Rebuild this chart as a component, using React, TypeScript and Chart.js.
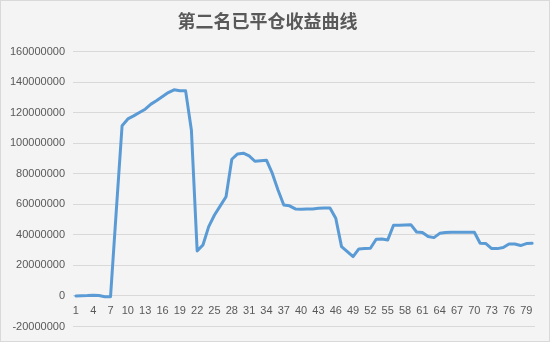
import React, { useEffect, useRef } from "react";
import { Chart, registerables } from "chart.js";

Chart.register(...registerables);

const TITLE = "第二名已平仓收益曲线";

const CATEGORIES: string[] = [
  "1", "2", "3", "4", "5", "6", "7", "8", "9", "10",
  "11", "12", "13", "14", "15", "16", "17", "18", "19", "20",
  "21", "22", "23", "24", "25", "26", "27", "28", "29", "30",
  "31", "32", "33", "34", "35", "36", "37", "38", "39", "40",
  "41", "42", "43", "44", "45", "46", "47", "48", "49", "50",
  "51", "52", "53", "54", "55", "56", "57", "58", "59", "60",
  "61", "62", "63", "64", "65", "66", "67", "68", "69", "70",
  "71", "72", "73", "74", "75", "76", "77", "78", "79", "80",
];

const PROFIT: number[] = [
  0, 200000, 300000, 500000, 300000, -500000, -500000, 56000000, 111500000, 115900000,
  117900000, 120100000, 122300000, 125600000, 128000000, 130600000, 133200000, 135000000, 134300000, 134300000,
  108700000, 29500000, 33400000, 45400000, 53000000, 59000000, 65000000, 89500000, 93000000, 93500000,
  91700000, 88200000, 88600000, 88900000, 80400000, 69400000, 59600000, 59000000, 57000000, 56800000,
  57000000, 57000000, 57400000, 57600000, 57600000, 50900000, 32300000, 29000000, 25800000, 30800000,
  31000000, 31200000, 37100000, 37300000, 36700000, 46300000, 46300000, 46500000, 46700000, 41900000,
  41500000, 38900000, 38200000, 41000000, 41500000, 41700000, 41700000, 41700000, 41700000, 41700000,
  34500000, 34300000, 31000000, 31000000, 31700000, 34000000, 34000000, 33000000, 34300000, 34500000,
];

const Y_MIN = -20000000;
const Y_MAX = 160000000;
const Y_STEP = 20000000;
const X_LABEL_EVERY = 3;

const TEXT_COLOR = "#595959";
const GRID_COLOR = "#d9d9d9";
const LINE_COLOR = "#5b9bd5";
const BG_COLOR = "#f4f4f4";

const frame = {
  id: "frame",
  beforeDraw(chart: any) {
    const { ctx, width, height } = chart;
    ctx.save();
    ctx.fillStyle = BG_COLOR;
    ctx.fillRect(0, 0, width, height);
    ctx.strokeStyle = GRID_COLOR;
    ctx.lineWidth = 1;
    ctx.strokeRect(0.5, 0.5, width - 1, height - 1);
    ctx.restore();
  },
};

export default function App() {
  const ref = useRef<HTMLCanvasElement | null>(null);

  useEffect(() => {
    if (!ref.current) return;
    const chart = new Chart(ref.current, {
      type: "line",
      data: {
        labels: CATEGORIES,
        datasets: [
          {
            data: PROFIT,
            borderColor: LINE_COLOR,
            backgroundColor: LINE_COLOR,
            borderWidth: 3,
            pointRadius: 0,
            tension: 0,
            borderJoinStyle: "round",
            borderCapStyle: "round",
            fill: false,
          },
        ],
      },
      options: {
        animation: false,
        responsive: true,
        maintainAspectRatio: false,
        layout: { padding: { left: 0, right: 15, top: 0, bottom: 15.5 } },
        plugins: {
          legend: { display: false },
          tooltip: { enabled: false },
          title: {
            display: true,
            text: TITLE,
            color: TEXT_COLOR,
            font: { family: "'Noto Sans CJK SC', sans-serif", size: 18, weight: "bold" },
            padding: { top: 10, bottom: 20 },
          },
        },
        scales: {
          x: {
            type: "category",
            position: { y: 0 } as any,
            offset: true,
            grid: { display: false, drawTicks: false },
            border: { display: false },
            ticks: {
              autoSkip: false,
              maxRotation: 0,
              minRotation: 0,
              padding: 8,
              color: TEXT_COLOR,
              font: { family: "'Liberation Sans', sans-serif", size: 11 },
              callback: (_v: any, i: number) => (i % X_LABEL_EVERY === 0 ? CATEGORIES[i] : ""),
            },
          },
          y: {
            min: Y_MIN,
            max: Y_MAX,
            grid: { color: GRID_COLOR, lineWidth: 1, drawTicks: false },
            border: { display: false },
            afterFit: (scale: any) => {
              scale.width = 73;
            },
            ticks: {
              stepSize: Y_STEP,
              padding: 8,
              color: TEXT_COLOR,
              font: { family: "'Liberation Sans', sans-serif", size: 11 },
              callback: (v: any) => String(v),
            },
          },
        },
      },
      plugins: [frame],
    });
    return () => chart.destroy();
  }, []);

  return (
    <div style={{ position: "fixed", left: 0, top: 0, width: 550, height: 342, background: BG_COLOR }}>
      <canvas ref={ref} />
    </div>
  );
}
